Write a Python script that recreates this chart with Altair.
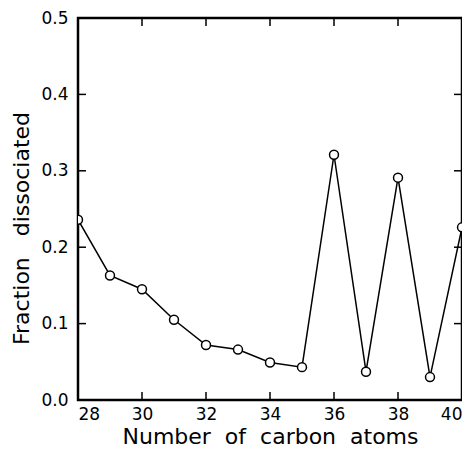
import altair as alt
import pandas as pd

carbon = [28, 29, 30, 31, 32, 33, 34, 35, 36, 37, 38, 39, 40]
fraction = [0.236, 0.163, 0.145, 0.105, 0.072, 0.066, 0.049, 0.043, 0.321, 0.037, 0.291, 0.030, 0.226]
x_ticks = [28, 30, 32, 34, 36, 38, 40]
y_ticks = [0.0, 0.1, 0.2, 0.3, 0.4, 0.5]
x_title = "Number\u00a0 of\u00a0 carbon\u00a0 atoms"
y_title = "Fraction\u00a0\u00a0 dissociated"

W, H = 384, 382
TICK = 8
FONT = "DejaVu Sans"

df = pd.DataFrame({"n": carbon, "f": fraction})
xt = pd.DataFrame({"t": x_ticks[1:-1]})
yt = pd.DataFrame({"t": y_ticks[1:-1]})

xscale = alt.Scale(domain=[28, 40], nice=False, zero=False)
yscale = alt.Scale(domain=[0, 0.5], nice=False)

xaxis = alt.Axis(values=x_ticks, format="d", ticks=False, domain=False, grid=False,
                 labelFont=FONT, labelFontSize=17, labelColor="black", labelPadding=6,
                 title=x_title, titleFont=FONT, titleFontSize=22,
                 titleFontWeight="normal", titleColor="black",
                 titleBaseline="alphabetic", titleY=43)
yaxis = alt.Axis(values=y_ticks, format=".1f", ticks=False, domain=False, grid=False,
                 labelFont=FONT, labelFontSize=17, labelColor="black", labelPadding=10,
                 title=y_title, titleFont=FONT, titleFontSize=22,
                 titleFontWeight="normal", titleColor="black",
                 titleBaseline="alphabetic", titleX=-50, titleY=210)

base = alt.Chart(df)
line = base.mark_line(color="black", strokeWidth=1.5, clip=True).encode(
    x=alt.X("n:Q", scale=xscale, axis=xaxis),
    y=alt.Y("f:Q", scale=yscale, axis=yaxis),
)
pts = base.mark_point(shape="circle", size=80, filled=False, stroke="black", fill="white",
                      fillOpacity=1, strokeWidth=1.5, opacity=1, clip=True).encode(
    x=alt.X("n:Q", scale=xscale),
    y=alt.Y("f:Q", scale=yscale),
)

bt = alt.Chart(xt).mark_rule(color="black", strokeWidth=1.5).encode(
    x=alt.X("t:Q", scale=xscale), y=alt.value(H), y2=alt.value(H - TICK))
tt = alt.Chart(xt).mark_rule(color="black", strokeWidth=1.5).encode(
    x=alt.X("t:Q", scale=xscale), y=alt.value(0), y2=alt.value(TICK))
lt = alt.Chart(yt).mark_rule(color="black", strokeWidth=1.5).encode(
    y=alt.Y("t:Q", scale=yscale), x=alt.value(0), x2=alt.value(TICK))
rt = alt.Chart(yt).mark_rule(color="black", strokeWidth=1.5).encode(
    y=alt.Y("t:Q", scale=yscale), x=alt.value(W), x2=alt.value(W - TICK))

chart = alt.layer(line, pts, bt, tt, lt, rt).properties(
    width=W, height=H,
    background="white",
    autosize=alt.AutoSizeParams(type="none"),
    padding={"left": 70, "top": 10, "right": 0, "bottom": 50},
).configure_view(stroke="black", strokeWidth=2.5)

chart.save("out.html", embed_options={"renderer": "svg", "actions": False})
